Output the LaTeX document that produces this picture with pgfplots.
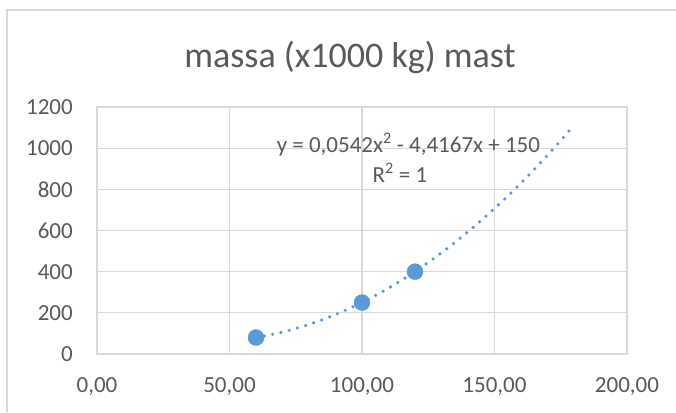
\documentclass[border=0pt]{standalone}
\usepackage{pgfplots}
\pgfplotsset{compat=1.18}
\usepackage{fontspec}
\setmainfont{Carlito}
\definecolor{txt}{HTML}{595959}
\definecolor{grd}{HTML}{D9D9D9}
\definecolor{ser}{HTML}{5B9BD5}
\begin{document}
\begin{tikzpicture}[x=1pt,y=1pt]
\path[use as bounding box] (0,0) rectangle (676,412);
\draw[grd,line width=1.2pt] (7,0) -- (7,402) -- (676,402);
\node[txt,font=\fontsize{36}{40}\selectfont] at (350,355) {massa (x1000 kg) mast};
\begin{axis}[
  at={(97pt,58pt)}, anchor=south west,
  scale only axis, width=530pt, height=247pt,
  xmin=0, xmax=200, ymin=0, ymax=1200,
  xtick={0,50,100,150,200}, ytick={0,200,...,1200},
  xticklabels={{0,00},{50,00},{100,00},{150,00},{200,00}},
  grid=major, major grid style={grd,line width=1.2pt},
  axis line style={grd,line width=1.2pt},
  tick style={draw=none},
  ticklabel style={txt,font=\fontsize{23}{26}\selectfont},
  /pgf/number format/assume math mode=true,
  yticklabel style={/pgf/number format/1000 sep={}, anchor=east, inner sep=0pt, xshift=-24pt},
  xticklabel style={anchor=north, inner sep=0pt, yshift=-23pt},
  clip=false,
]
\addplot[ser, line width=3.6pt, dash pattern=on 0pt off 8.5pt, line cap=round, smooth] coordinates {
(60,80.1)(70,106.4)(80,143.5)(90,191.5)(100,250.3)(110,320.0)(120,400.5)(130,491.8)(140,594.0)(150,707.0)(160,830.9)(170,965.5)(180,1111.1)};
\addplot[only marks, mark=*, mark size=8pt, mark options={fill=ser,draw=ser}] coordinates {(60,80)(100,250)(120,400)};
\node[txt,font=\fontsize{23}{26}\selectfont] at (axis cs:117.5,1015) {y = 0,0542x\textsuperscript{2} - 4,4167x + 150};
\node[txt,font=\fontsize{23}{26}\selectfont] at (axis cs:114.3,879) {R\textsuperscript{2} = 1};
\end{axis}
\end{tikzpicture}
\end{document}
